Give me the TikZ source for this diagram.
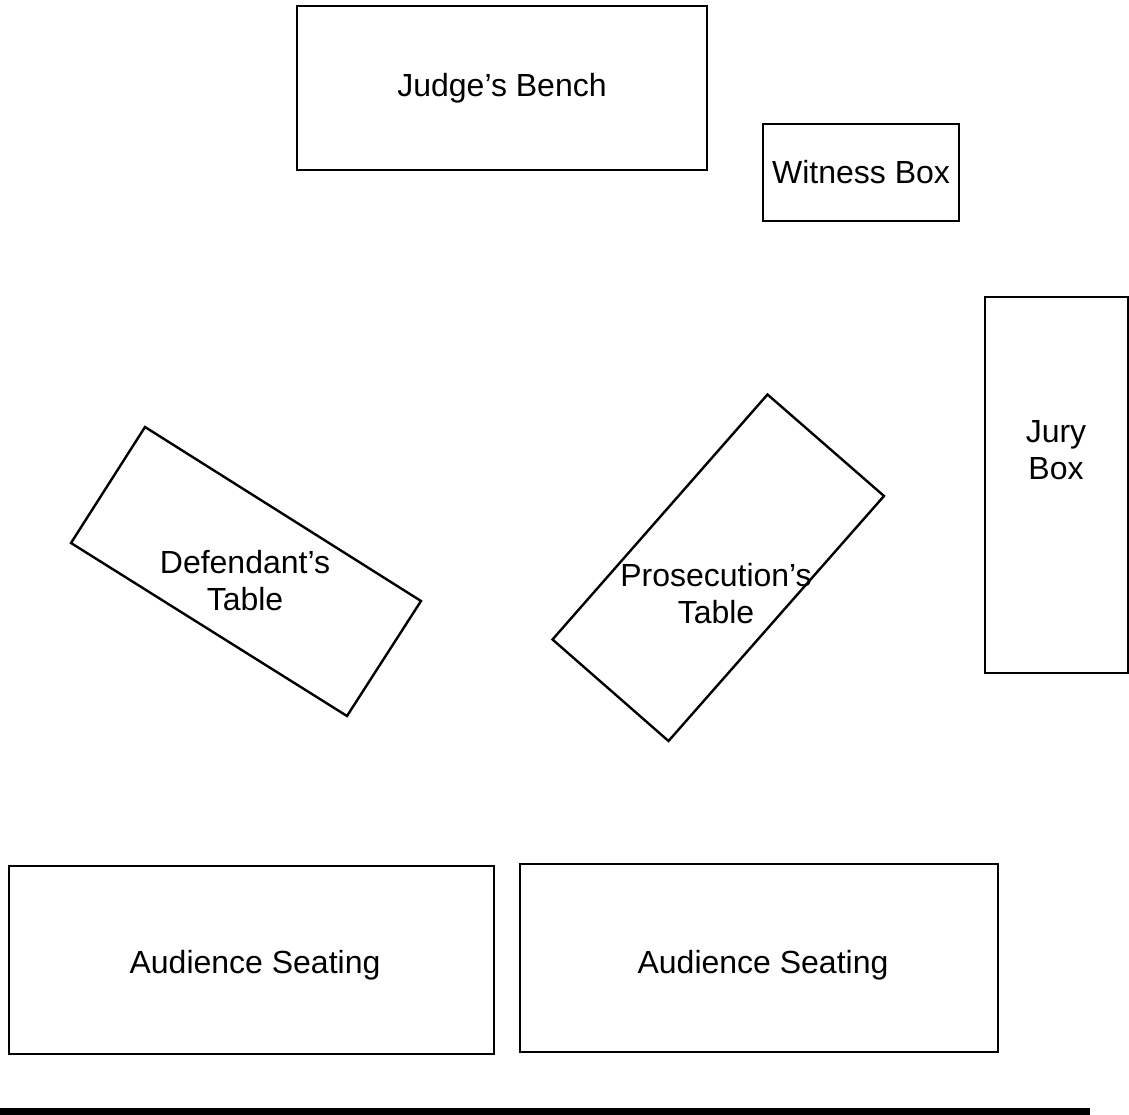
\documentclass[tikz,border=0pt]{standalone}
\usepackage{fontspec}
\setmainfont{Liberation Sans}
\usepackage{tikz}
\usetikzlibrary{positioning}

\begin{document}
\begin{tikzpicture}[
    x=1pt, y=-1pt,
    room/.style={
        rectangle,
        draw,
        line width=2.4pt,
        align=center,
        inner sep=0pt,
        font=\fontsize{32}{37}\selectfont
    },
    label/.style={
        align=center,
        inner sep=0pt,
        font=\fontsize{32}{37}\selectfont
    },
    table/.style={
        draw,
        line width=2.4pt,
        line join=miter
    }
]

\useasboundingbox (0,0) rectangle (1129,1115);

\node[room, minimum width=410, minimum height=164] (bench) at (502,88)
{Judge’s Bench};

\node[room, minimum width=196, minimum height=97] (witness) at (861,172.5)
{Witness Box};

\node[room, minimum width=143, minimum height=376] (jury) at (1056.5,485) {};
\node[label] (jurytext) at (1056,450) {Jury\\Box};

% tables, turned
\draw[table] (145,427) -- (421,601) -- (347,716) -- (71,543) -- cycle;
\node[label] (defence) at (245,581) {Defendant’s\\Table};

\draw[table] (767.5,394.5) -- (884,496) -- (668.5,741) -- (552.5,639.5) -- cycle;
\node[label] (prosecution) at (716,594) {Prosecution’s\\Table};

\node[room, minimum width=485, minimum height=188] (seatsL) at (251.5,960) {};
\node[label] (seatsLtext) at (255,965) {Audience Seating};

\node[room, minimum width=478, minimum height=188] (seatsR) at (759,958) {};
\node[label] (seatsRtext) at (763,965) {Audience Seating};

\coordinate (railL) at (0,1111.5);
\coordinate (railR) at (1090,1111.5);
\draw[line width=7pt] (railL) -- (railR);

\end{tikzpicture}
\end{document}
